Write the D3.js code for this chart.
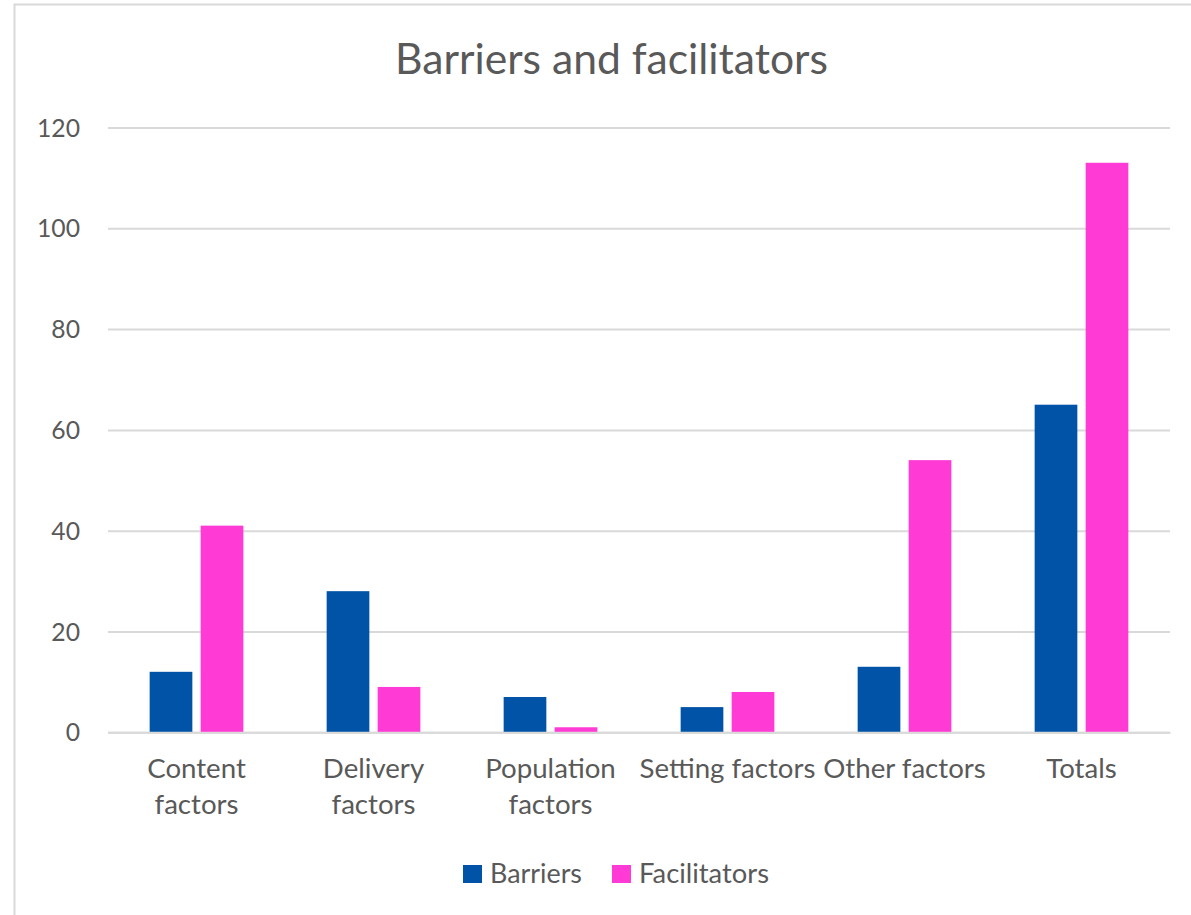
<!DOCTYPE html>
<html>
<head>
<meta charset="utf-8">
<script src="https://cdn.jsdelivr.net/npm/d3@7"></script>
<style>
  html, body { margin: 0; padding: 0; background: #fff; }
  svg { display: block; }
  text { font-family: Lato, "Open Sans", sans-serif; fill: #595959; }
</style>
</head>
<body>
<svg id="chart" width="1191" height="915"></svg>
<script>
// ---- data ----
const categories = ["Content factors", "Delivery factors", "Population factors", "Setting factors", "Other factors", "Totals"];
const categoryLines = [["Content", "factors"], ["Delivery", "factors"], ["Population", "factors"], ["Setting factors"], ["Other factors"], ["Totals"]];
const barriers = [12, 28, 7, 5, 13, 65];
const facilitators = [41, 9, 1, 8, 54, 113];
const seriesNames = ["Barriers", "Facilitators"];
const seriesColors = ["#0053A6", "#FF3AD5"];
const yTicks = [0, 20, 40, 60, 80, 100, 120];

const svg = d3.select("#chart");

// chart border (left/top visible)
svg.append("rect").attr("x", 14.5).attr("y", 4.5).attr("width", 1300).attr("height", 1100)
  .attr("fill", "none").attr("stroke", "#d9d9d9").attr("stroke-width", 2);

const plot = { left: 108, right: 1170, top: 127.5, bottom: 732.3 };

const x = d3.scaleBand().domain(categories).range([plot.left, plot.right]).paddingInner(0).paddingOuter(0);
const y = d3.scaleLinear().domain([0, 120]).range([plot.bottom, plot.top]);
const groupW = 93.7;
const xs = d3.scaleBand().domain(seriesNames).range([0, groupW]).paddingInner(0.163);

// helper to fit font size to a target width
function fitSize(sel, target) {
  sel.style("font-size", "100px");
  const w = sel.node().getComputedTextLength();
  const fs = 100 * target / w;
  sel.style("font-size", fs + "px");
  return fs;
}

// gridlines via axis
const yAxis = d3.axisLeft(y).tickValues(yTicks).tickSize(-(plot.right - plot.left)).tickPadding(28);
const gy = svg.append("g").attr("transform", `translate(${plot.left},0)`).call(yAxis);
gy.select(".domain").remove();
gy.selectAll(".tick line").attr("stroke", "#d9d9d9").attr("stroke-width", 2);
const tickTexts = gy.selectAll(".tick text").attr("fill", "#595959").attr("dy", "0.35em");
let tickFs = 28;
tickTexts.each(function(d) { if (d === 120) tickFs = fitSize(d3.select(this), 43); });
tickTexts.style("font-size", tickFs + "px").attr("x", 80 - plot.left).attr("text-anchor", "end");

// bars
const groups = svg.append("g").selectAll("g").data(categories).join("g")
  .attr("transform", d => `translate(${x(d) + x.bandwidth() / 2 - groupW / 2},0)`);
groups.each(function(cat, i) {
  const vals = [barriers[i], facilitators[i]];
  d3.select(this).selectAll("rect").data(vals).join("rect")
    .attr("x", (v, j) => xs(seriesNames[j]))
    .attr("width", xs.bandwidth())
    .attr("y", v => y(v))
    .attr("height", v => y(0) - y(v))
    .attr("fill", (v, j) => seriesColors[j]);
});

// x axis labels via axisBottom
const xAxis = d3.axisBottom(x).tickSize(0).tickFormat("");
const gx = svg.append("g").attr("transform", `translate(0,${plot.bottom})`).call(xAxis);
gx.select(".domain").attr("stroke", "#d9d9d9").attr("stroke-width", 2);
const probe = svg.append("text").text("Setting factors");
const catFs = fitSize(probe, 176);
probe.remove();
gx.selectAll(".tick").each(function(d, i) {
  const t = d3.select(this).append("text")
    .attr("text-anchor", "middle")
    .style("font-size", catFs + "px")
    .attr("y", 778 - plot.bottom);
  categoryLines[i].forEach((line, k) => {
    t.append("tspan").attr("x", 0).attr("dy", k === 0 ? 0 : 36).text(line);
  });
});

// title
const title = svg.append("text").attr("x", 611.5).attr("y", 74).attr("text-anchor", "middle")
  .text("Barriers and facilitators");
fitSize(title, 433);

// legend
const legendX = [463, 612];
const legendTextW = [92, 130];
seriesNames.forEach((name, i) => {
  svg.append("rect").attr("x", legendX[i]).attr("y", 865).attr("width", 19).attr("height", 18)
    .attr("fill", seriesColors[i]);
  const t = svg.append("text").attr("x", legendX[i] + 27).attr("y", 883).text(name);
  fitSize(t, legendTextW[i]);
});
</script>
</body>
</html>
